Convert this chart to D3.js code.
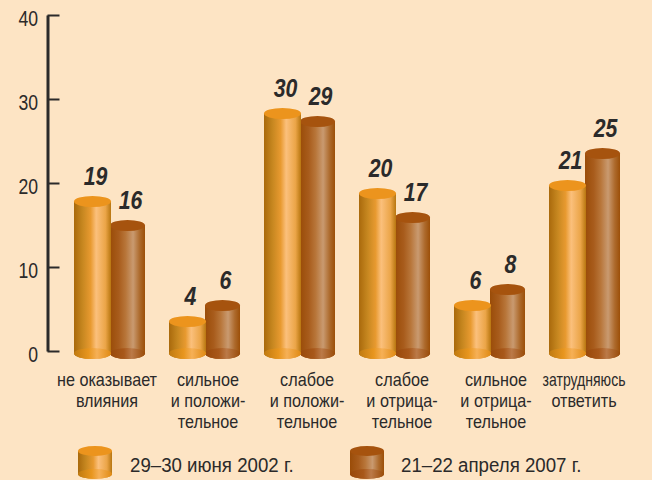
<!DOCTYPE html>
<html><head><meta charset="utf-8">
<script src="https://cdn.jsdelivr.net/npm/d3@7/dist/d3.min.js"></script>
<style>html,body{margin:0;padding:0;background:#fde4c4}svg{display:block}</style>
</head><body><svg id="c" width="652" height="480"></svg>
<script>
const categories = [
  ["не оказывает","влияния"],
  ["сильное","и положи-","тельное"],
  ["слабое","и положи-","тельное"],
  ["слабое","и отрица-","тельное"],
  ["сильное","и отрица-","тельное"],
  ["затрудняюсь","ответить"]
];
const seriesNames = ["29–30 июня 2002 г.","21–22 апреля 2007 г."];
const series2002 = [19,4,30,20,6,21];
const series2007 = [16,6,29,17,8,25];
const axisTicks = [0,10,20,30,40];

const labelCenters = [107,208,307,402,496,584];
const font = "'Liberation Sans',Arial,sans-serif";
const ink = "#2b2a2a";

const svg = d3.select("#c");
const defs = svg.append("defs");
function grad(id, stops){
  const g = defs.append("linearGradient").attr("id",id).attr("x1","0").attr("x2","1").attr("y1","0").attr("y2","0");
  stops.forEach(s=>g.append("stop").attr("offset",s[0]).attr("stop-color",s[1]));
}
grad("bodyA",[[0,"#a9690c"],[0.22,"#c5861f"],[0.45,"#e89a30"],[0.6,"#fbc07c"],[0.85,"#eba548"],[1,"#b87610"]]);
grad("bodyB",[[0,"#9a4c08"],[0.25,"#a85c1c"],[0.45,"#b8763a"],[0.66,"#c99a70"],[0.85,"#ad6a2c"],[1,"#9c4f08"]]);
grad("baseA",[[0,"#c07a10"],[0.4,"#e8961f"],[0.62,"#f6b057"],[1,"#e08a12"]]);
grad("baseB",[[0,"#98480a"],[0.4,"#a8581a"],[0.62,"#bb7a48"],[1,"#9a4b08"]]);

const y = d3.scaleLinear().domain([0,40]).range([351,15]);
const yBar = d3.scaleLinear().domain([0,40]).range([353.5,33.5]);
const x = d3.scaleBand().domain(d3.range(categories.length)).range([74,644]);

function cyl(g, cx, top, base, rx, ry, c){
  g.append("path")
    .attr("d",`M${cx-rx},${top}V${base}A${rx},${ry} 0 0 0 ${cx+rx},${base}V${top}Z`)
    .attr("fill",`url(#body${c})`);
  g.append("ellipse").attr("cx",cx).attr("cy",base).attr("rx",rx).attr("ry",ry).attr("fill",`url(#base${c})`);
  g.append("ellipse").attr("cx",cx).attr("cy",top).attr("rx",rx).attr("ry",ry)
    .attr("fill",c==="A"?"#ec941d":"#a6530e");
}
// horizontally condensed text, anchored at (px,py)
function squeeze(sel, px, py, k){
  return sel.attr("x",0).attr("y",0).attr("transform",`translate(${px},${py}) scale(${k},1)`);
}

const ax = svg.append("g").attr("transform","translate(47.5,0)")
  .call(d3.axisLeft(y).tickValues(axisTicks).tickSize(-12).tickSizeOuter(0).tickPadding(9));
ax.select(".domain").attr("stroke",ink).attr("stroke-width",3);
ax.selectAll(".tick line").attr("stroke",ink).attr("stroke-width",2);
ax.selectAll(".tick text").attr("fill",ink).attr("font-family",font).attr("font-size",22)
  .attr("dy",null).attr("dominant-baseline","auto")
  .each(function(){ squeeze(d3.select(this),-9.5,10,0.8); });

const bars = svg.append("g");
categories.forEach((_,i)=>{
  const l = x(i), g = bars.append("g");
  const c1 = l+18.5, c2 = l+53.5;
  cyl(g, c2, yBar(series2007[i]), yBar(0), 17.5, 5.5, "B");
  cyl(g, c1, yBar(series2002[i]), yBar(0), 18.5, 5.5, "A");
  [[series2002[i],c1],[series2007[i],c2]].forEach(([v,cx])=>{
    squeeze(g.append("text"), cx+3, yBar(v)-17, 0.85).attr("text-anchor","middle")
      .attr("font-family",font).attr("font-size",25).attr("font-weight","bold").attr("font-style","italic")
      .attr("fill",ink).text(v);
  });
});

categories.forEach((lines,i)=>{
  lines.forEach((s,j)=>{
    const t = svg.append("text").attr("text-anchor","middle").attr("font-family",font).attr("font-size",18).attr("fill",ink).text(s);
    squeeze(t, labelCenters[i], 386+j*21, s==="затрудняюсь"?0.78:0.9);
  });
});

const legX = [95,367], legT = [130,401];
seriesNames.forEach((s,i)=>{
  const g = svg.append("g");
  cyl(g, legX[i], 451, 474, 17, 5, i?"B":"A");
  squeeze(g.append("text"), legT[i], 472, 0.89).attr("font-family",font).attr("font-size",21).attr("fill",ink).text(s);
});
</script></body></html>
